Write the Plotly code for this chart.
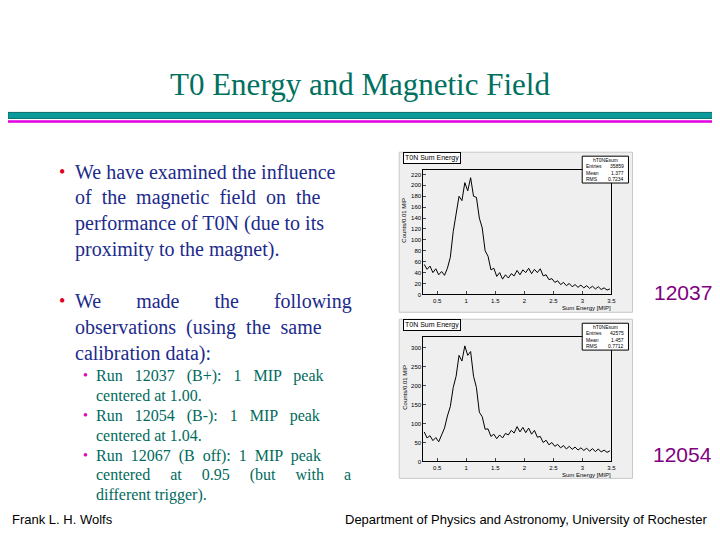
import plotly.graph_objects as go

# bin centres (MIP), 0.05 steps
energy = [0.275 + 0.05 * i for i in range(65)]

counts_12037 = [55, 46, 52, 40, 47, 36, 42, 35, 48, 68, 115, 145, 180, 172, 205, 190, 214, 180,
                178, 140, 122, 80, 70, 45, 48, 33, 40, 28, 36, 30, 38, 34, 44, 36, 45, 40, 48,
                38, 46, 40, 47, 34, 36, 27, 29, 22, 25, 18, 22, 16, 20, 14, 18, 13, 17, 12, 16,
                11, 15, 10, 14, 9, 12, 8, 10]

counts_12054 = [78, 62, 68, 55, 63, 52, 70, 88, 120, 145, 195, 225, 280, 265, 305, 280, 290, 225,
                195, 130, 118, 85, 86, 66, 72, 60, 70, 62, 74, 70, 82, 75, 92, 78, 90, 76, 88,
                72, 82, 64, 66, 50, 56, 44, 50, 40, 45, 36, 42, 33, 40, 32, 38, 30, 36, 29, 35,
                27, 34, 26, 33, 25, 30, 24, 28]

ticks = [0.5, 1, 1.5, 2, 2.5, 3, 3.5]
tick_text = ["0.5", "1", "1.5", "2", "2.5", "3", "3.5"]

W, H = 720, 540
def px(x): return (x - 10) / 0.9875 / W
def py(y): return 1 - (y - 8) / H

fig = go.Figure()
fig.add_trace(go.Scatter(x=energy, y=counts_12037, mode="lines", line=dict(color="black", width=1),
                         xaxis="x", yaxis="y", showlegend=False))
fig.add_trace(go.Scatter(x=energy, y=counts_12054, mode="lines", line=dict(color="black", width=1),
                         xaxis="x2", yaxis="y2", showlegend=False))

axfont = dict(family="Liberation Sans", size=6, color="black")
common = dict(showgrid=False, zeroline=False, showline=True, linecolor="black", mirror=True,
              ticks="inside", ticklen=3, tickfont=axfont)
fig.update_layout(
    width=W, height=H, margin=dict(l=0, r=0, t=0, b=0),
    paper_bgcolor="white", plot_bgcolor="#e6e6e6",
    xaxis=dict(domain=[px(423), px(610)], range=[0.26, 3.5], tickvals=ticks, ticktext=tick_text,
               anchor="y", **common),
    yaxis=dict(domain=[py(296), py(171)], range=[0, 228], dtick=20, anchor="x", **common),
    xaxis2=dict(domain=[px(423), px(610)], range=[0.26, 3.5], tickvals=ticks, ticktext=tick_text,
                anchor="y2", **common),
    yaxis2=dict(domain=[py(464), py(339)], range=[0, 328], dtick=50, anchor="x2", **common),
)

shapes = []
ann = []
def text(t, x, y, size, color="black", family="Liberation Sans", xanchor="center", **kw):
    ann.append(dict(text=t, x=px(x), y=py(y), xref="paper", yref="paper", showarrow=False,
                    xanchor=xanchor, yanchor=kw.pop("yanchor", "middle"),
                    font=dict(family=family, size=size, color=color), **kw))

# panel backgrounds
for top, bot in [(153, 314), (321, 481)]:
    shapes.append(dict(type="rect", xref="paper", yref="paper", x0=px(399), x1=px(631), y0=py(bot), y1=py(top),
                       fillcolor="#efefef", line=dict(color="#c8c8c8", width=1), layer="below"))
# header bars
shapes.append(dict(type="rect", xref="paper", yref="paper", x0=0, x1=1, y0=py(119), y1=py(113),
                   fillcolor="#0a9a9a", line=dict(color="#006c6c", width=1)))
shapes.append(dict(type="rect", xref="paper", yref="paper", x0=0, x1=1, y0=py(123.5), y1=py(121),
                   fillcolor="#e000e0", line=dict(width=0)))

for top, entries, mean, rms in [(155, "35859", "1.377", "0.7234"), (323, "42575", "1.457", "0.7712")]:
    text("T0N Sum Energy", 403, top + 4, 7, xanchor="left", bgcolor="white", bordercolor="black",
         borderwidth=1, borderpad=1)
    shapes.append(dict(type="rect", xref="paper", yref="paper", x0=px(581), x1=px(627), y0=py(top + 29), y1=py(top + 2),
                       fillcolor="white", line=dict(color="black", width=1)))
    text("hT0NEsum", 604, top + 6, 5)
    for i, (k, v) in enumerate([("Entries", entries), ("Mean", mean), ("RMS", rms)]):
        text(k, 583, top + 12 + i * 6.5, 5, xanchor="left")
        text(v, 625, top + 12 + i * 6.5, 5, xanchor="right")
    text("Sum Energy [MIP]", 612, top + 155, 6, xanchor="right")
    text("Counts/0.01 MIP", 404, top + 42, 6, textangle=-90, yanchor="top")

text("12037", 712, 294, 21, "#800080", xanchor="right")
text("12054", 712, 457, 21, "#800080", xanchor="right")
text("T0 Energy and Magnetic Field", 360, 85, 31, "#00705f", family="Liberation Serif")

blue = "#1c2a8c"
teal = "#006a5c"
body = [(173, "We have examined the influence", True), (199, "of  the  magnetic  field  on  the", False),
        (225, "performance of T0N (due to its", False), (251, "proximity to the magnet).", False),
        (303, "We       made       the       following", True), (329, "observations  (using  the  same", False),
        (355, "calibration data):", False)]
for y, t, b in body:
    text(t, 75, y, 20, blue, family="Liberation Serif", xanchor="left")
    if b:
        text("•", 64, y, 18, "#e00020", family="Liberation Serif")
sub = [(378, "Run   12037   (B+):   1   MIP   peak", True), (398, "centered at 1.00.", False),
       (418, "Run   12054   (B-):   1   MIP   peak", True), (438, "centered at 1.04.", False),
       (458, "Run  12067  (B  off):  1  MIP  peak", True), (478, "centered     at     0.95     (but     with     a", False),
       (498, "different trigger).", False)]
for y, t, b in sub:
    text(t, 96, y, 16, teal, family="Liberation Serif", xanchor="left")
    if b:
        text("•", 87, y, 14, "#e000c0", family="Liberation Serif")

text("Frank L. H. Wolfs", 12, 522, 13, xanchor="left")
text("Department of Physics and Astronomy, University of Rochester", 707, 522, 13, xanchor="right")

fig.update_layout(shapes=shapes, annotations=ann)
fig.write_html("out.html")
